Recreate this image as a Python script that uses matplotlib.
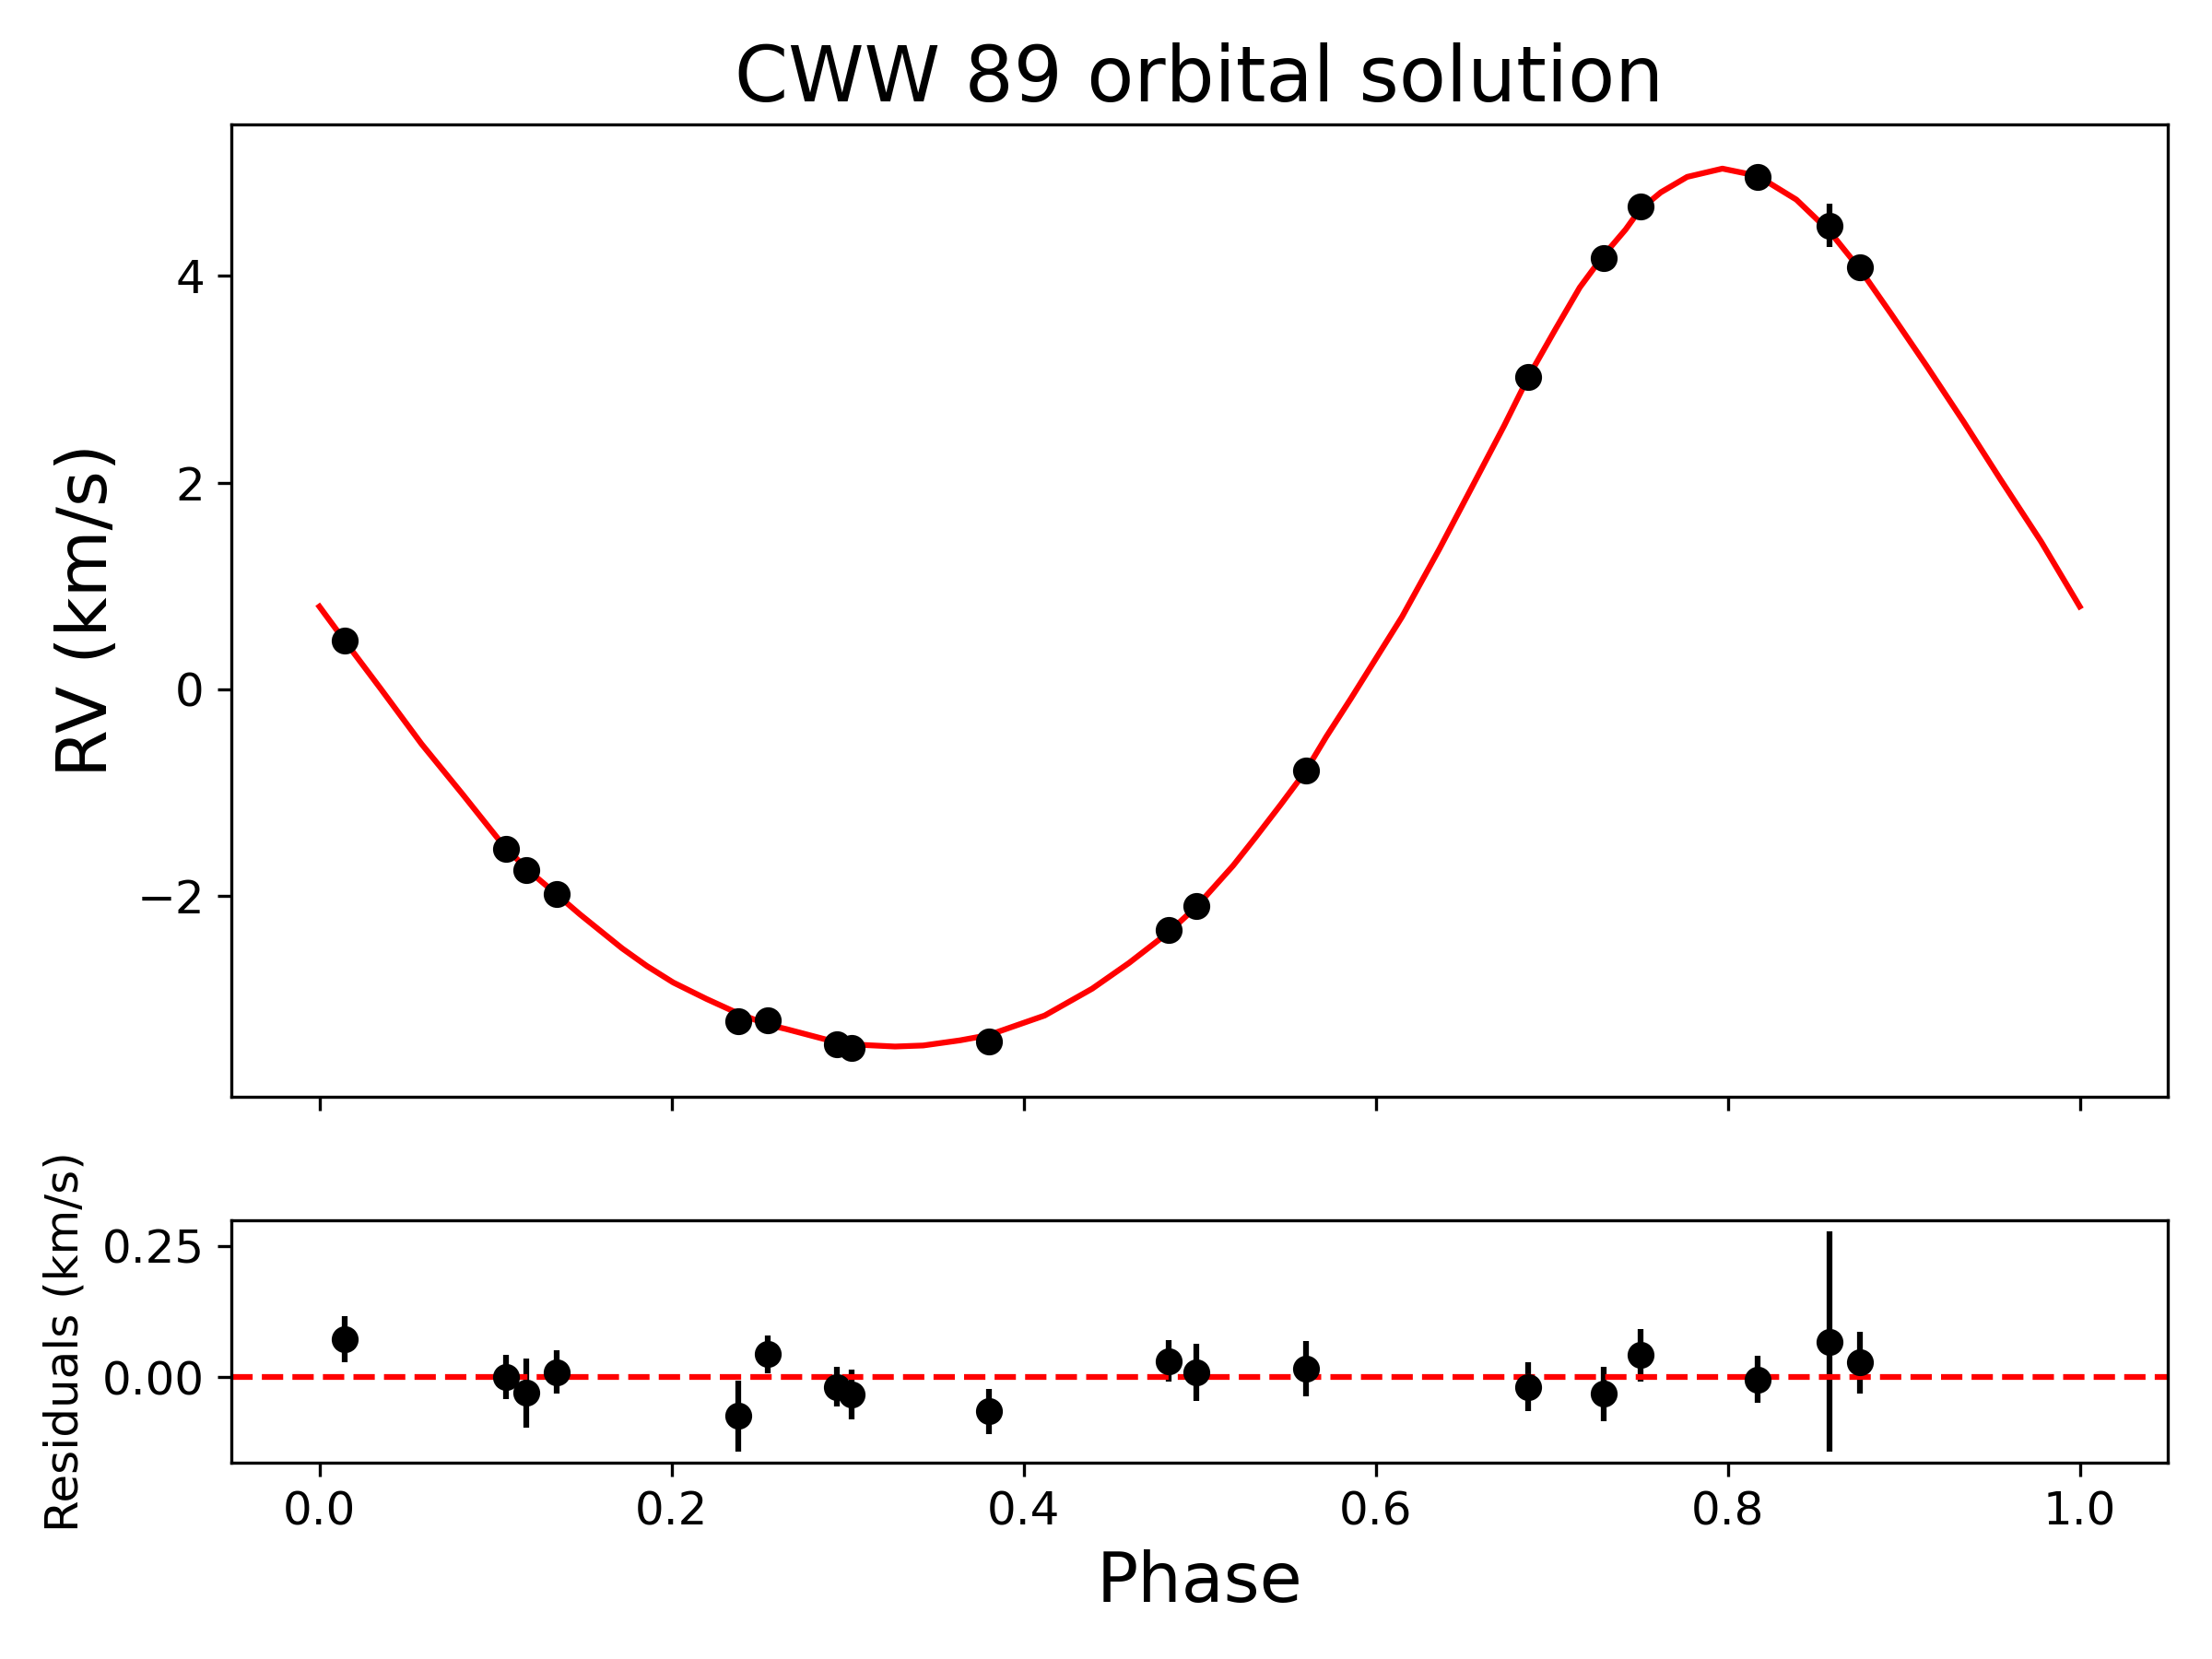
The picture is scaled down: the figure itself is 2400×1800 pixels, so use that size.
import numpy as np
import matplotlib
matplotlib.use("Agg")
import matplotlib.pyplot as plt

# observed phases, radial velocities and residuals (km/s)
phase = [0.0146, 0.1062, 0.1174, 0.1347, 0.2377, 0.2549, 0.2942, 0.3026, 0.3803,
         0.4822, 0.4982, 0.5603, 0.6869, 0.7295, 0.7503, 0.8172, 0.8577, 0.8753]
rv = [0.473, -1.546, -1.751, -1.980, -3.217, -3.208, -3.436, -3.470, -3.410,
      -2.335, -2.097, -0.792, 3.022, 4.177, 4.676, 4.962, 4.488, 4.088]
resid = [0.073, 0.000, -0.030, 0.010, -0.074, 0.044, -0.018, -0.033, -0.065,
         0.031, 0.009, 0.016, -0.018, -0.032, 0.042, -0.004, 0.068, 0.028]
err = [0.044, 0.042, 0.066, 0.042, 0.068, 0.036, 0.037, 0.047, 0.043,
       0.039, 0.054, 0.053, 0.047, 0.051, 0.050, 0.045, 0.210, 0.059]

# model curve
model_phase = [0.000, 0.0147, 0.035, 0.058, 0.081, 0.103, 0.117, 0.135, 0.148, 0.172,
               0.186, 0.201, 0.220, 0.238, 0.255, 0.265, 0.294, 0.303, 0.327, 0.343,
               0.364, 0.380, 0.412, 0.439, 0.460, 0.482, 0.498, 0.519, 0.532, 0.546,
               0.560, 0.572, 0.586, 0.615, 0.636, 0.657, 0.673, 0.687, 0.702, 0.716,
               0.729, 0.742, 0.750, 0.762, 0.777, 0.797, 0.817, 0.839, 0.858, 0.875,
               0.893, 0.913, 0.934, 0.955, 0.978, 1.000]
model_rv = [0.80, 0.46, 0.00, -0.53, -1.01, -1.48, -1.73, -1.99, -2.18, -2.51,
            -2.68, -2.84, -3.00, -3.14, -3.25, -3.29, -3.42, -3.44, -3.46, -3.45,
            -3.40, -3.35, -3.16, -2.90, -2.65, -2.36, -2.11, -1.71, -1.43, -1.12,
            -0.80, -0.46, -0.09, 0.70, 1.35, 2.03, 2.55, 3.03, 3.48, 3.89,
            4.19, 4.45, 4.64, 4.81, 4.96, 5.04, 4.97, 4.74, 4.43, 4.07,
            3.63, 3.13, 2.59, 2.03, 1.43, 0.80]

fig = plt.figure(figsize=(8, 6), dpi=300)
ax1 = fig.add_axes([0.1046, 0.339, 0.8754, 0.586])
ax2 = fig.add_axes([0.1046, 0.1183, 0.8754, 0.1461], sharex=ax1)

# panel 1: RV curve
ax1.plot(model_phase, model_rv, color="red", lw=1.5)
ax1.errorbar(phase, rv, yerr=err, fmt="o", color="black", ms=6, lw=1.5)
ax1.set_ylabel("RV (km/s)", fontsize=18)
ax1.set_title("CWW 89 orbital solution", fontsize=20)
ax1.tick_params(labelsize=12)
ax1.tick_params(axis="x", labelbottom=False)

# panel 2: residuals
ax2.errorbar(phase, resid, yerr=err, fmt="o", color="black", ms=6, lw=1.5)
ax2.axhline(0, color="red", ls="--", lw=1.5)
ax2.set_ylabel("Residuals (km/s)", fontsize=12)
ax2.set_xlabel("Phase", fontsize=18)
ax2.tick_params(labelsize=12)
ax2.set_xlim(-0.05, 1.05)

fig.savefig("out.png", dpi=300)
